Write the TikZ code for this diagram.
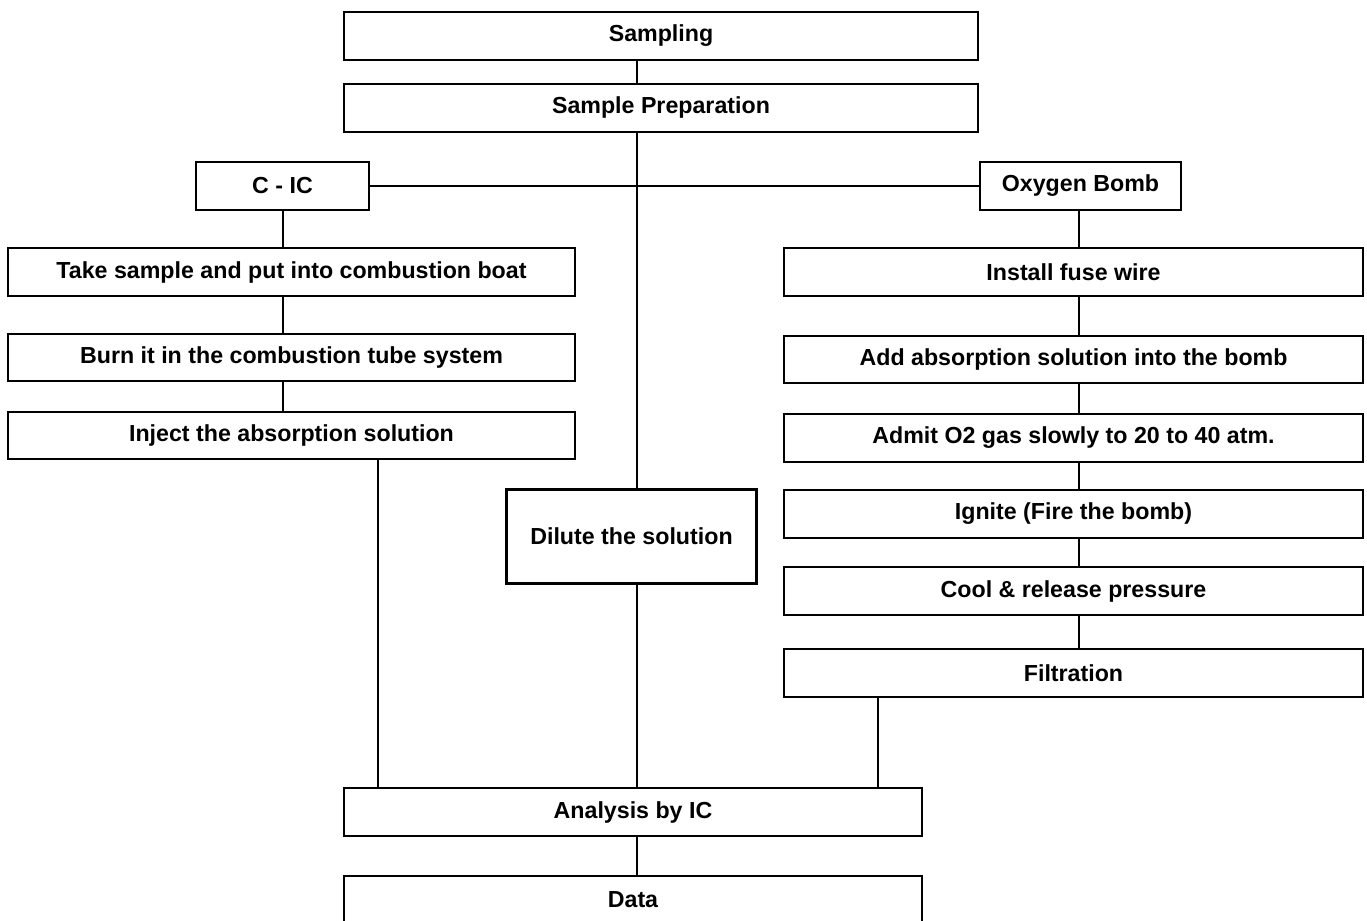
\documentclass[tikz,border=0pt]{standalone}
\usepackage{fontspec}
\setmainfont{Liberation Sans}
\usepackage{tikz}
\usetikzlibrary{positioning,calc}

\begin{document}
\begin{tikzpicture}[x=0.5pt,y=-0.5pt,
        box/.style={draw, rectangle, line width=1.2pt, inner sep=0pt, align=center,
            font=\bfseries\fontsize{11.6}{14}\selectfont},
        link/.style={line width=1pt}]
        \useasboundingbox (0,0) rectangle (1367,921);
        \clip (0,0) rectangle (1367,921);

        % Columns of the connectors
        \coordinate (colC) at (283,0);
        \coordinate (colL) at (378,0);
        \coordinate (colM) at (637,0);
        \coordinate (colF) at (878,0);
        \coordinate (colR) at (1079,0);

        % Nodes
        \node[box, minimum width=317pt, minimum height=24pt] (samp) at (661,36) {Sampling};
        \node[box, minimum width=317pt, minimum height=24pt] (prep) at (661,108) {Sample Preparation};
        \node[box, minimum width=86.5pt, minimum height=24pt] (cic) at (282.5,186) {C - IC};
        \node[box, minimum width=100.5pt, minimum height=24pt] (oxy) at (1080.5,186) {Oxygen Bomb};

        \node[box, minimum width=283.5pt, minimum height=24pt] (take) at (291.5,272) {Take sample and put into combustion boat};
        \node[box, minimum width=283.5pt, minimum height=23.5pt] (burn) at (291.5,357.5) {Burn it in the combustion tube system};
        \node[box, minimum width=283.5pt, minimum height=23.5pt] (inject) at (291.5,435.5) {Inject the absorption solution};

        \node[box, minimum width=125pt, minimum height=47pt] (dilute) at (631.5,536.5) {Dilute the solution};

        \node[box, minimum width=289.5pt, minimum height=24pt] (fuse) at (1073.5,272) {Install fuse wire};
        \node[box, minimum width=289.5pt, minimum height=23.5pt] (add) at (1073.5,359.5) {Add absorption solution into the bomb};
        \node[box, minimum width=289.5pt, minimum height=24pt] (admit) at (1073.5,438) {Admit O2 gas slowly to 20 to 40 atm.};
        \node[box, minimum width=289.5pt, minimum height=24pt] (ignite) at (1073.5,514) {Ignite (Fire the bomb)};
        \node[box, minimum width=289.5pt, minimum height=24pt] (cool) at (1073.5,591) {Cool \& release pressure};
        \node[box, minimum width=289.5pt, minimum height=24pt] (filt) at (1073.5,673) {Filtration};

        \node[box, minimum width=289pt, minimum height=24pt] (anal) at (633,812) {Analysis by IC};
        \node[box, minimum width=289pt, minimum height=24pt] (data) at (633,900) {Data};

        % Edges
        \draw[link] (samp.south -| colM) -- (prep.north -| colM);
        \draw[link] (prep.south -| colM) -- (dilute.north -| colM);
        \draw[link] (cic) -- (oxy);
        \draw[link] (cic.south) -- (cic.south |- take.north);
        \draw[link] (take.south -| colC) -- (burn.north -| colC);
        \draw[link] (burn.south -| colC) -- (inject.north -| colC);
        \draw[link] (oxy.south -| colR) -- (fuse.north -| colR);
        \draw[link] (fuse.south -| colR) -- (add.north -| colR);
        \draw[link] (add.south -| colR) -- (admit.north -| colR);
        \draw[link] (admit.south -| colR) -- (ignite.north -| colR);
        \draw[link] (ignite.south -| colR) -- (cool.north -| colR);
        \draw[link] (cool.south -| colR) -- (filt.north -| colR);
        \draw[link] (inject.south -| colL) -- (anal.north -| colL);
        \draw[link] (dilute.south -| colM) -- (anal.north -| colM);
        \draw[link] (filt.south -| colF) -- (anal.north -| colF);
        \draw[link] (anal.south -| colM) -- (data.north -| colM);
    \end{tikzpicture}
\end{document}
